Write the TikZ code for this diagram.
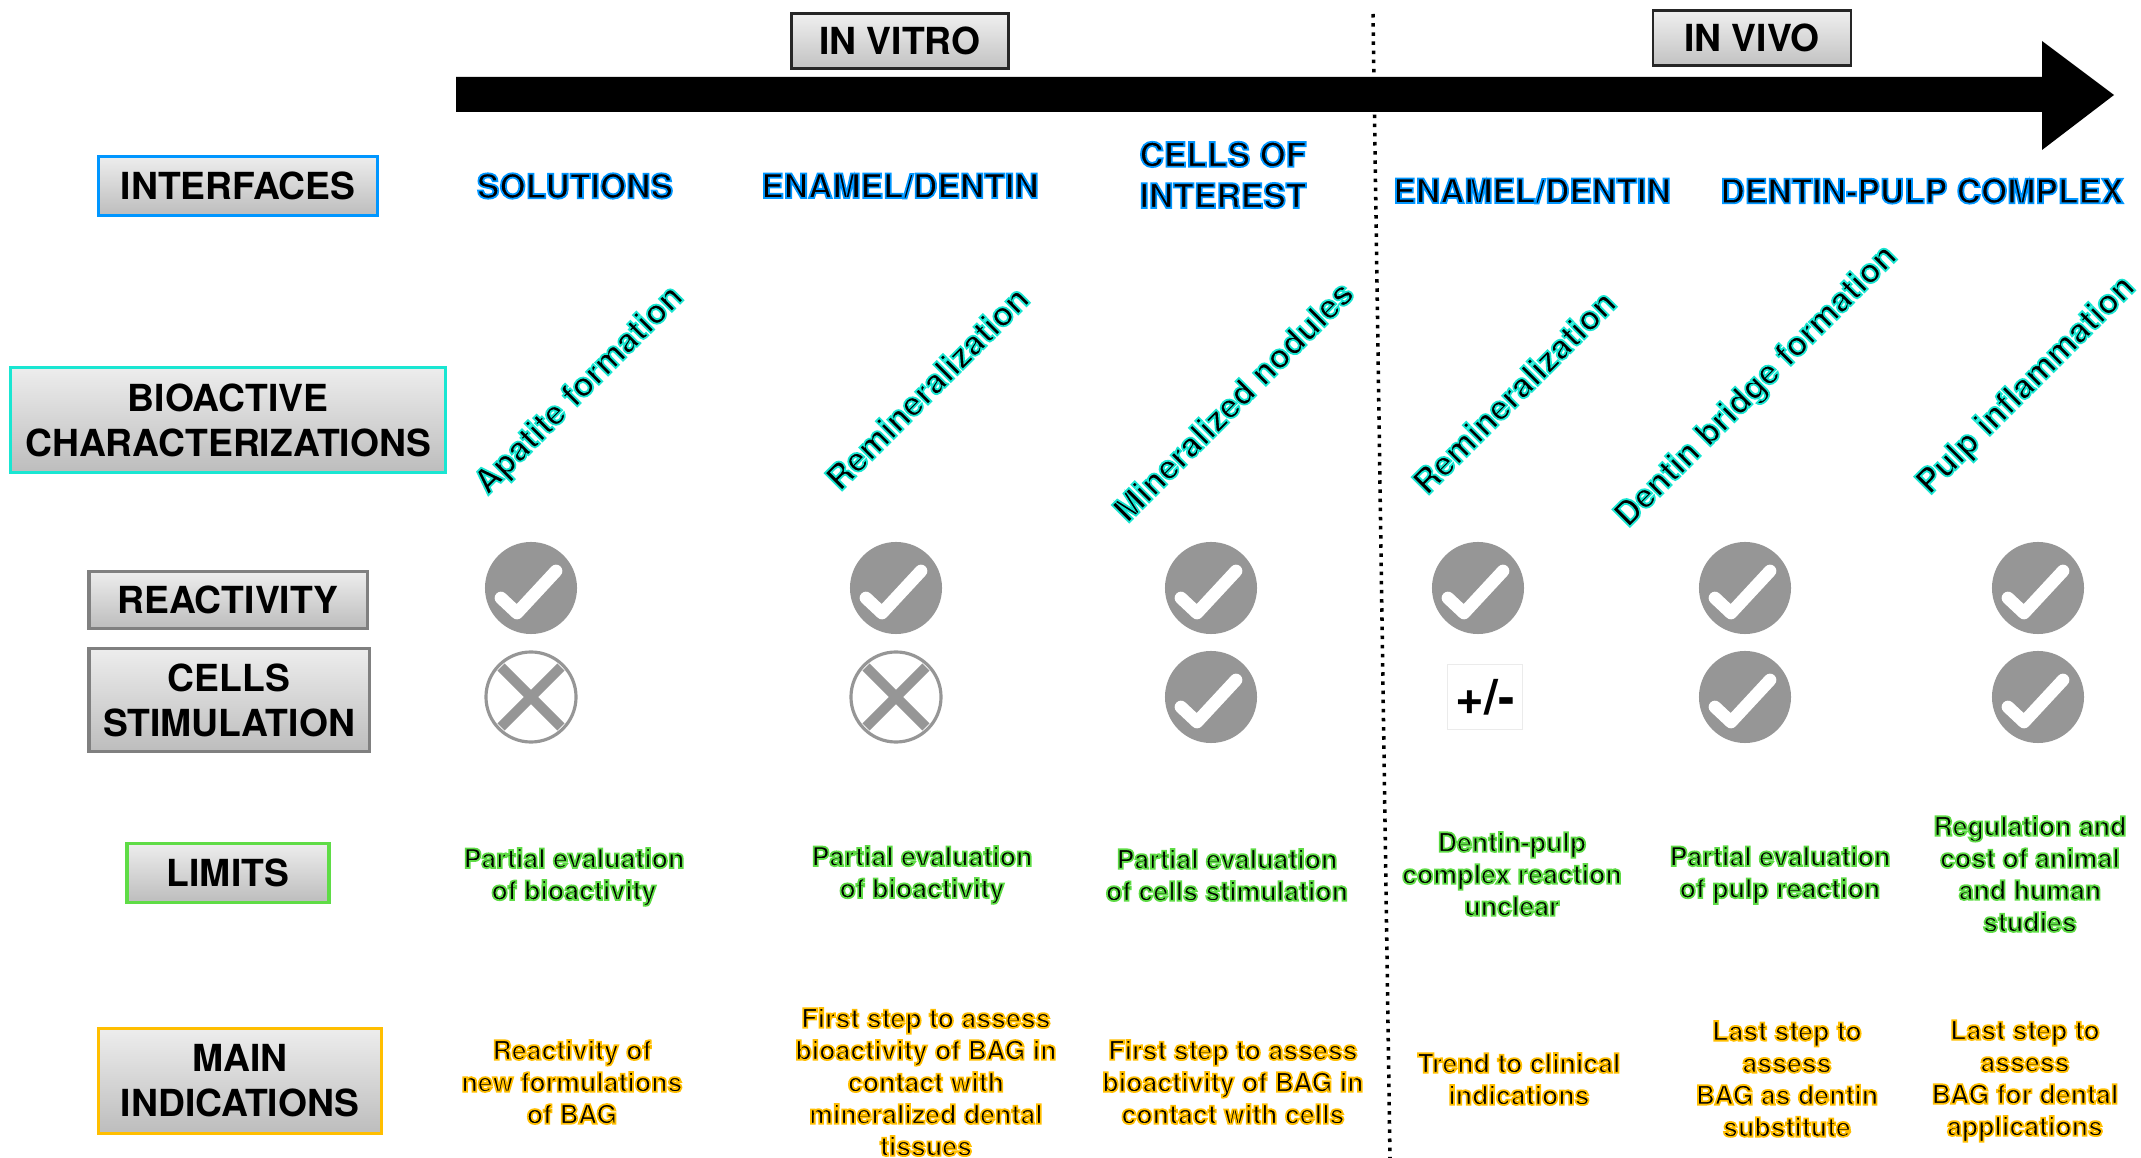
\documentclass[tikz,border=0pt]{standalone}
\usepackage{fontspec}
\setmainfont{TeX Gyre Heros}
\usepackage{xcolor}
\usetikzlibrary{positioning}
\definecolor{hdblue}{RGB}{0,150,255}
\definecolor{bioteal}{RGB}{25,230,210}
\definecolor{limgreen}{RGB}{95,220,70}
\definecolor{indgold}{RGB}{255,190,0}
\definecolor{icongray}{RGB}{150,150,150}
% testo nero con contorno colorato
\newcommand{\outl}[2]{\leavevmode\special{pdf:literal direct q 2 Tr 0.5 w #1 RG}#2\special{pdf:literal direct Q}}
\newcommand{\hdc}[1]{\outl{0 0.588 1}{#1}}
\newcommand{\bioc}[1]{\outl{0.1 0.9 0.82}{#1}}
\newcommand{\limc}[1]{\outl{0.37 0.86 0.27}{#1}}
\newcommand{\indc}[1]{\outl{1 0.745 0}{#1}}

\begin{document}
\begin{tikzpicture}[x=0.01cm, y=-0.01cm,
  rowbox/.style={rectangle, draw=#1, line width=0.9pt, top color=black!7, bottom color=black!26, align=center, inner sep=0pt, font=\bfseries\fontsize{10.6}{12.8}\selectfont},
  stagebox/.style={rectangle, draw=black!85, line width=0.8pt, top color=black!6, bottom color=black!24, minimum height=0.55cm, inner sep=0pt, font=\bfseries\fontsize{10.6}{12}\selectfont},
  hdtext/.style={align=center, inner sep=0pt, font=\bfseries\fontsize{9.6}{11.7}\selectfont},
  diagtext/.style={rotate=45, inner sep=0pt, font=\bfseries\fontsize{9.6}{11}\selectfont},
  smalltext/.style={align=center, inner sep=0pt, font=\bfseries\fontsize{7.6}{9.1}\selectfont},
  okmark/.style={circle, fill=icongray, minimum size=0.92cm, inner sep=0pt},
  nomark/.style={circle, draw=icongray, line width=0.9pt, fill=white, minimum size=0.9cm, inner sep=0pt},
  tickstroke/.style={white, line width=3.6pt, line cap=round, line join=round},
  xstroke/.style={icongray, line width=2.9pt, shorten <=1.2pt, shorten >=1.2pt}]
\useasboundingbox (0,0) rectangle (2141,1158);

% Asse temporale
\draw[line width=1pt, dash pattern=on 1pt off 1.6pt] (1373,14) -- (1390,1158);
\fill (456,77) -- (2042,77) -- (2042,41) -- (2114,95) -- (2042,150) -- (2042,112) -- (456,112) -- cycle;
\node[stagebox, minimum width=2.17cm] (vitro) at (900,41) {IN VITRO};
\node[stagebox, minimum width=1.98cm] (vivo) at (1752,38) {IN VIVO};

% Righe
\node[rowbox=hdblue, minimum width=2.79cm, minimum height=0.59cm] (interf) at (238,186) {INTERFACES};
\node[rowbox=bioteal, minimum width=4.34cm, minimum height=1.05cm] (bioact) at (228,420) {BIOACTIVE\\CHARACTERIZATIONS};
\node[rowbox=black!50, minimum width=2.78cm, minimum height=0.57cm] (react) at (228,600) {REACTIVITY};
\node[rowbox=black!50, minimum width=2.8cm, minimum height=1.03cm] (cells) at (229,700) {CELLS\\STIMULATION};
\node[rowbox=limgreen, minimum width=2.02cm, minimum height=0.59cm] (limits) at (228,873) {LIMITS};
\node[rowbox=indgold, minimum width=2.83cm, minimum height=1.05cm] (mainind) at (240,1081) {MAIN\\INDICATIONS};

% Interfacce
\node[hdtext] (h1) at (575,186) {\hdc{SOLUTIONS}};
\node[hdtext] (h2) at (900,186) {\hdc{ENAMEL/DENTIN}};
\node[hdtext] (h3) at (1223,175) {\hdc{CELLS OF}\\\hdc{INTEREST}};
\node[hdtext] (h4) at (1532,191) {\hdc{ENAMEL/DENTIN}};
\node[hdtext] (h5) at (1922,191) {\hdc{DENTIN-PULP COMPLEX}};

% Caratterizzazioni
\node[diagtext] (d1) at (580,391) {\bioc{Apatite formation}};
\node[diagtext] (d2) at (927,388) {\bioc{Remineralization}};
\node[diagtext] (d3) at (1233,401) {\bioc{Mineralized nodules}};
\node[diagtext] (d4) at (1514,392) {\bioc{Remineralization}};
\node[diagtext] (d5) at (1757,387) {\bioc{Dentin bridge formation}};
\node[diagtext] (d6) at (2027,386) {\bioc{Pulp inflammation}};

% Reattivita e stimolazione
\foreach \n/\cx/\cy in {11/531/588, 12/896/588, 13/1211/588, 14/1478/588, 15/1745/588, 16/2038/588, 23/1211/697, 25/1745/697, 26/2038/697} {
  \node[okmark] (ok\n) at (\cx,\cy) {};
  \draw[tickstroke] ([xshift=-0.3cm, yshift=-0.1cm]ok\n.center) -- ([xshift=-0.14cm, yshift=-0.25cm]ok\n.center) -- ([xshift=0.25cm, yshift=0.17cm]ok\n.center);
}
\foreach \n/\cx in {21/531, 22/896} {
  \node[nomark] (no\n) at (\cx,697) {};
  \draw[xstroke] (no\n.135) -- (no\n.-45);
  \draw[xstroke] (no\n.45) -- (no\n.225);
}
\node[draw=black!8, line width=0.4pt, fill=white, minimum width=0.75cm, minimum height=0.65cm, inner sep=0pt, font=\bfseries\fontsize{14}{16}\selectfont] (pm) at (1485,697) {+/-};

% Limiti
\node[smalltext] (lim1) at (574,877) {\limc{Partial evaluation}\\\limc{of bioactivity}};
\node[smalltext] (lim2) at (922,875) {\limc{Partial evaluation}\\\limc{of bioactivity}};
\node[smalltext] (lim3) at (1227,875) {\limc{Partial evaluation}\\\limc{of cells stimulation}};
\node[smalltext] (lim4) at (1512,874) {\limc{Dentin-pulp}\\\limc{complex reaction}\\\limc{unclear}};
\node[smalltext] (lim5) at (1780,875) {\limc{Partial evaluation}\\\limc{of pulp reaction}};
\node[smalltext] (lim6) at (2030,874) {\limc{Regulation and}\\\limc{cost of animal}\\\limc{and human}\\\limc{studies}};

% Indicazioni
\node[smalltext] (ind1) at (572,1082) {\indc{Reactivity of}\\\indc{new formulations}\\\indc{of BAG}};
\node[smalltext] (ind2) at (926,1082) {\indc{First step to assess}\\\indc{bioactivity of BAG in}\\\indc{contact with}\\\indc{mineralized dental}\\\indc{tissues}};
\node[smalltext] (ind3) at (1233,1082) {\indc{First step to assess}\\\indc{bioactivity of BAG in}\\\indc{contact with cells}};
\node[smalltext] (ind4) at (1519,1079) {\indc{Trend to clinical}\\\indc{indications}};
\node[smalltext] (ind5) at (1787,1079) {\indc{Last step to}\\\indc{assess}\\\indc{BAG as dentin}\\\indc{substitute}};
\node[smalltext] (ind6) at (2025,1081) {\indc{Last step to}\\\indc{assess}\\\indc{BAG for dental}\\\indc{applications}};
\end{tikzpicture}
\end{document}
